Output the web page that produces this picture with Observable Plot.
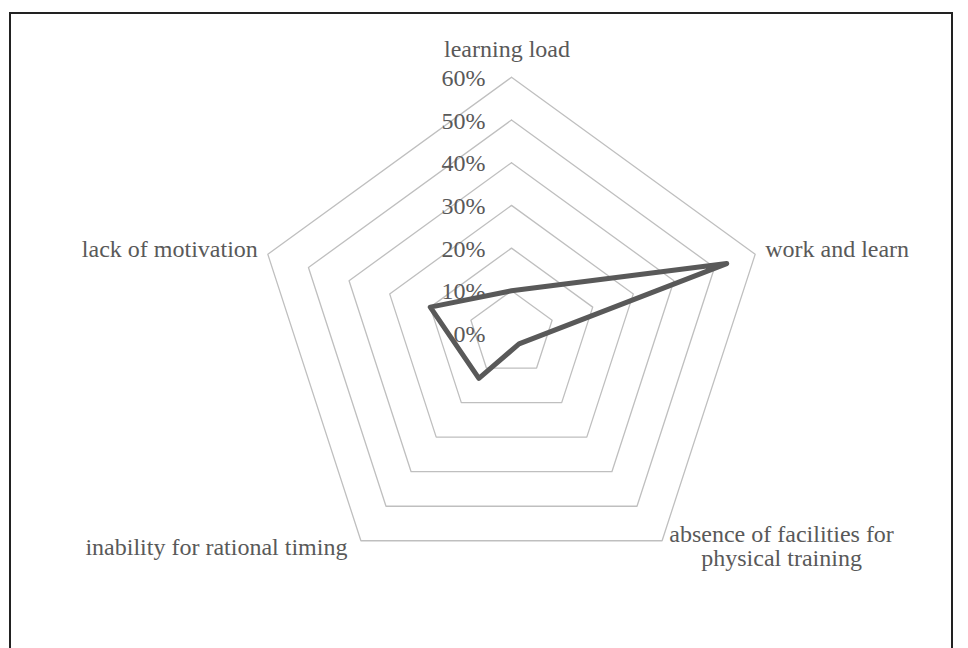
<!DOCTYPE html>
<html>
<head>
<meta charset="utf-8">
<script src="https://cdn.jsdelivr.net/npm/d3@7"></script>
<script src="https://cdn.jsdelivr.net/npm/@observablehq/plot@0.6"></script>
<style>
  html, body { margin: 0; padding: 0; background: #fff; }
  #wrap { position: relative; width: 968px; height: 648px; overflow: hidden; }
  #border { position: absolute; left: 9px; top: 12px; width: 940px; height: 700px;
            border-left: 2px solid #222; border-top: 2px solid #222; border-right: 2px solid #222; }
  #chart { position: absolute; left: 0; top: 0; }
</style>
</head>
<body>
<div id="wrap"><div id="border"></div><div id="chart"></div></div>
<script>
// ---- data ----
const categories = [
  "learning load",
  "work and learn",
  "absence of facilities for\nphysical training",
  "inability for rational timing",
  "lack of motivation"
];
const values = [10, 53, 3, 13, 20];          // percent
const ringValues = [10, 20, 30, 40, 50, 60];  // grid rings
const tickValues = [0, 10, 20, 30, 40, 50, 60];
const tickLabels = ["0%", "10%", "20%", "30%", "40%", "50%", "60%"];

// ---- geometry helpers ----
const W = 968, H = 648;
const cx = 511, cy = 333;       // centre of the radar in pixels
const maxVal = 60;
const k = 256.2 / maxVal;       // pixels per percent
const n = categories.length;
const ang = i => (i % n) * 2 * Math.PI / n;
const px = (r, i) => r * Math.sin(ang(i));
const py = (r, i) => r * Math.cos(ang(i));

const rings = [];
for (const r of ringValues) for (let i = 0; i <= n; i++) rings.push({ring: r, x: px(r, i), y: py(r, i)});
const series = values.map((v, i) => ({cat: categories[i], x: px(v, i), y: py(v, i)}));
const labelPts = categories.map((c, i) => ({label: c, x: px(maxVal, i), y: py(maxVal, i)}));
const ticks = tickValues.map((v, i) => ({v, label: tickLabels[i]}));

const txt = "#595959";
const font = 24;
const lab = (i, opts) => Plot.text([labelPts[i]], {x: "x", y: "y", text: "label", fill: txt, fontSize: font, lineAnchor: "bottom", ...opts});

const chart = Plot.plot({
  width: W, height: H,
  margin: 0,
  style: {fontFamily: "'Liberation Serif', 'Times New Roman', serif", background: "transparent"},
  x: {domain: [-cx / k, (W - cx) / k], range: [0, W], axis: null},
  y: {domain: [-(H - cy) / k, cy / k], range: [H, 0], axis: null},
  marks: [
    Plot.line(rings, {x: "x", y: "y", z: "ring", stroke: "#bfbfbf", strokeWidth: 1.3}),
    Plot.text(ticks, {x: () => 0, y: "v", text: "label", dx: -26, dy: 1, textAnchor: "end", lineAnchor: "middle", fill: txt, fontSize: font}),
    Plot.line(series, {x: "x", y: "y", curve: "linear-closed", stroke: "#595959", strokeWidth: 5, strokeLinejoin: "round"}),
    lab(0, {dx: -4.5, dy: -20, textAnchor: "middle"}),
    lab(1, {dx: 10, dy: 3, textAnchor: "start"}),
    Plot.text([labelPts[2]], {x: "x", y: "y", text: "label", fill: txt, fontSize: font, lineAnchor: "top", textAnchor: "middle", dx: 119.5, dy: -15.5}),
    lab(3, {dx: -13.5, dy: 14.5, textAnchor: "end"}),
    lab(4, {dx: -10, dy: 3, textAnchor: "end"})
  ]
});
document.getElementById("chart").appendChild(chart);
</script>
</body>
</html>
